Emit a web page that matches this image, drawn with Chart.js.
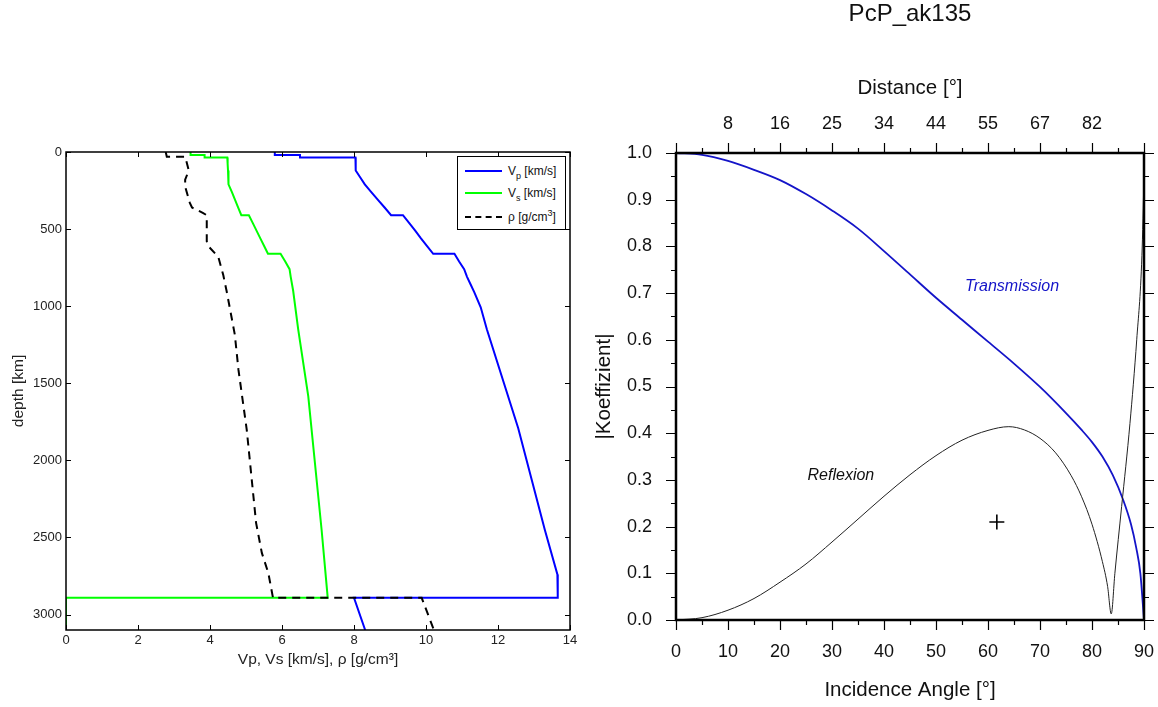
<!DOCTYPE html>
<html>
<head>
<meta charset="utf-8">
<script src="https://cdn.jsdelivr.net/npm/chart.js@4.4.0/dist/chart.umd.min.js"></script>
<style>
  html, body { margin:0; padding:0; background:#fff; overflow:hidden; width:1158px; height:707px; }
  canvas { position:absolute; top:0; }
  #left { left:0; }
  #right { left:580px; }
  #legend { position:absolute; left:457px; top:156px; width:109px; height:74px; box-sizing:border-box;
    border:1.5px solid #000; background:#fff; font:12px "Liberation Sans", Arial, sans-serif; color:#111; }
  #legend .row { position:absolute; left:0; height:20px; display:flex; align-items:center; white-space:nowrap; }
  #legend i { display:inline-block; width:37px; height:0; margin:0 6px 0 7px; }
  #legend span { line-height:20px; }
  #legend sub { font-size:9px; vertical-align:-4px; line-height:0; }
  #legend sup { font-size:9px; vertical-align:5px; line-height:0; }
</style>
</head>
<body>
<canvas id="left" width="580" height="707"></canvas>
<canvas id="right" width="640" height="707"></canvas>
<div id="legend">
  <div class="row" style="top:4px"><i style="border-top:2px solid #0000ff"></i><span>V<sub>p</sub> [km/s]</span></div>
  <div class="row" style="top:26px"><i style="border-top:2px solid #00ff00"></i><span>V<sub>s</sub> [km/s]</span></div>
  <div class="row" style="top:50px"><i style="border-top:2px dashed #000"></i><span>ρ [g/cm<sup>3</sup>]</span></div>
</div>
<script>
const FONT = '"Liberation Sans", Arial, Helvetica, sans-serif';

// --- left panel: velocity / density profile (depth in km)
const vpDepth = [0, 20, 20, 35, 35, 77.5, 120, 165, 210, 260, 310, 360, 410, 410, 460, 510, 560, 610, 660, 660, 710, 760, 809.5, 859, 908.5, 1007.5, 1150, 1790, 2450, 2740, 2891.5, 2891.5, 3100];
const vp = [5.80, 5.80, 6.50, 6.50, 8.04, 8.045, 8.05, 8.175, 8.30, 8.48, 8.665, 8.85, 9.03, 9.36, 9.53, 9.70, 9.86, 10.03, 10.20, 10.79, 10.92, 11.06, 11.14, 11.24, 11.34, 11.52, 11.69, 12.56, 13.30, 13.65, 13.66, 8.00, 8.31];

const vsDepth = [0, 20, 20, 35, 35, 77.5, 120, 165, 210, 260, 310, 360, 410, 410, 460, 510, 560, 610, 660, 660, 710, 760, 809.5, 900, 1150, 1585, 2450, 2891.5, 2891.5, 3100];
const vs = [3.46, 3.46, 3.85, 3.85, 4.48, 4.49, 4.50, 4.509, 4.518, 4.609, 4.696, 4.783, 4.870, 5.080, 5.186, 5.292, 5.398, 5.504, 5.610, 5.960, 6.090, 6.210, 6.242, 6.31, 6.45, 6.73, 7.10, 7.27, 0, 0];

const rhoDepth = [0, 30, 30, 120, 180, 225, 330, 360, 395, 410, 580, 610, 680, 800, 900, 1185, 1412, 1800, 2405, 2600, 2730, 2891.5, 2891.5, 3100];
const rho = [2.77, 2.80, 3.31, 3.41, 3.31, 3.31, 3.44, 3.50, 3.80, 3.91, 3.91, 3.95, 4.23, 4.37, 4.46, 4.69, 4.79, 5.02, 5.28, 5.44, 5.62, 5.75, 9.88, 10.22];

const depthTicks = [0, 500, 1000, 1500, 2000, 2500, 3000];

// --- right panel: coefficients vs incidence angle
const transAngle = [0, 5, 10, 15, 20, 25, 30, 35, 40, 45, 50, 55, 60, 65, 70, 75, 78, 80, 82, 84, 86, 87.5, 88.5, 89.3, 90];
const transVal = [1.0, 0.996, 0.983, 0.964, 0.942, 0.912, 0.877, 0.838, 0.790, 0.740, 0.690, 0.643, 0.596, 0.549, 0.499, 0.443, 0.407, 0.381, 0.350, 0.310, 0.257, 0.205, 0.155, 0.100, 0.0];

const reflAngle = [0, 5, 10, 15, 20, 25, 30, 35, 40, 45, 50, 55, 60, 64, 67, 70, 73, 76, 78, 80, 82, 83, 83.7, 84.4, 85.7, 87.3, 88.6, 89.6, 90];
const reflVal = [0.0, 0.005, 0.021, 0.046, 0.081, 0.120, 0.167, 0.216, 0.265, 0.311, 0.352, 0.385, 0.406, 0.414, 0.407, 0.389, 0.358, 0.309, 0.264, 0.205, 0.125, 0.072, 0.013, 0.100, 0.243, 0.421, 0.600, 0.780, 0.950];

const markAngle = [61.7];
const markVal = [0.21];

// top axis: epicentral distance shown at these incidence angles
const topAngles = [10, 20, 30, 40, 50, 60, 70, 80];
const topDist = ['8', '16', '25', '34', '44', '55', '67', '82'];

const pts = (xs, ys) => xs.map((x, i) => ({ x, y: ys[i] }));

// box + tick marks (major, optional minor) on all four sides
const frameTicks = {
  id: 'frameTicks',
  afterDraw(chart, args, o) {
    const { ctx, chartArea: a } = chart;
    const xs = chart.scales.x, ys = chart.scales.y;
    const s = o.inside ? 1 : -1;
    const mids = v => v.slice(1).map((t, i) => (t + v[i]) / 2);
    const xv = xs.ticks.map(t => t.value), yv = ys.ticks.map(t => t.value);
    ctx.save();
    ctx.strokeStyle = '#000';
    ctx.lineWidth = o.tickWidth;
    ctx.beginPath();
    const xm = (vals, len) => vals.forEach(v => {
      const p = Math.round(xs.getPixelForValue(v)) + 0.5;
      ctx.moveTo(p, a.top); ctx.lineTo(p, a.top + s * len);
      ctx.moveTo(p, a.bottom); ctx.lineTo(p, a.bottom - s * len);
    });
    const ym = (vals, len) => vals.forEach(v => {
      const p = Math.round(ys.getPixelForValue(v)) + 0.5;
      ctx.moveTo(a.left, p); ctx.lineTo(a.left + s * len, p);
      ctx.moveTo(a.right, p); ctx.lineTo(a.right - s * len, p);
    });
    xm(xv, o.len); ym(yv, o.len);
    if (o.minor) { xm(mids(xv), o.len / 2); ym(mids(yv), o.len / 2); }
    ctx.stroke();
    ctx.lineWidth = o.width;
    ctx.strokeRect(a.left, a.top, a.right - a.left, a.bottom - a.top);
    ctx.restore();
  }
};

// italic curve labels placed in data coordinates
const notes = {
  id: 'notes',
  afterDatasetsDraw(chart, args, o) {
    const { ctx } = chart;
    ctx.save();
    ctx.font = 'italic 16px ' + FONT;
    ctx.textAlign = 'left';
    ctx.textBaseline = 'middle';
    o.items.forEach(n => {
      ctx.fillStyle = n.color;
      ctx.fillText(n.text, chart.scales.x.getPixelForValue(n.x), chart.scales.y.getPixelForValue(n.y));
    });
    ctx.restore();
  }
};

// left chart
const smallFont = { family: FONT, size: 13 };
const leftTitleFont = { family: FONT, size: 15.5 };
new Chart(document.getElementById('left'), {
  type: 'scatter',
  data: {
    datasets: [
      { label: 'rho', data: pts(rho, rhoDepth), showLine: true, borderColor: '#000', borderWidth: 2, borderDash: [8, 6], pointRadius: 0, order: 0 },
      { label: 'Vs', data: pts(vs, vsDepth), showLine: true, borderColor: '#00ff00', borderWidth: 2, pointRadius: 0, order: 1 },
      { label: 'Vp', data: pts(vp, vpDepth), showLine: true, borderColor: '#0000ff', borderWidth: 2, pointRadius: 0, order: 2 }
    ]
  },
  options: {
    responsive: false,
    animation: false,
    layout: { padding: { top: 152, right: 10, left: 0, bottom: 0 } },
    plugins: {
      legend: { display: false },
      tooltip: { enabled: false },
      frameTicks: { inside: true, len: 5, tickWidth: 1, width: 1.5 }
    },
    scales: {
      x: {
        type: 'linear', min: 0, max: 14,
        grid: { display: false, drawTicks: false }, border: { display: false },
        ticks: { stepSize: 2, padding: 2.2, color: '#222', font: smallFont },
        title: { display: true, text: 'Vp, Vs [km/s], ρ [g/cm³]', color: '#222', font: leftTitleFont, padding: { bottom: 37.7, top: 0 } },
        afterFit: s => { s.height = 77; }
      },
      y: {
        type: 'linear', min: 0, max: 3100, reverse: true,
        grid: { display: false, drawTicks: false }, border: { display: false },
        ticks: { padding: 4, color: '#222', font: smallFont, callback: v => String(v) },
        afterBuildTicks: s => { s.ticks = depthTicks.map(v => ({ value: v })); },
        title: { display: true, text: 'depth [km]', color: '#222', font: leftTitleFont, padding: { top: 9.7, bottom: 0 } },
        afterFit: s => { s.width = 66; }
      }
    }
  },
  plugins: [frameTicks]
});

// right chart
const tickFont = { family: FONT, size: 18 };
const axisTitleFont = { family: FONT, size: 20.5 };
new Chart(document.getElementById('right'), {
  type: 'scatter',
  data: {
    datasets: [
      { label: 'Reflexion', data: pts(reflAngle, reflVal), showLine: true, borderColor: '#222', borderWidth: 1, pointRadius: 0, cubicInterpolationMode: 'monotone' },
      { label: 'Transmission', data: pts(transAngle, transVal), showLine: true, borderColor: '#1414c8', borderWidth: 1.8, pointRadius: 0, cubicInterpolationMode: 'monotone' },
      { label: 'mark', data: pts(markAngle, markVal), pointStyle: 'cross', pointRadius: 7.5, borderColor: '#000', borderWidth: 1.6 }
    ]
  },
  options: {
    responsive: false,
    animation: false,
    layout: { padding: { top: 0, right: 76, left: 0, bottom: 0 } },
    plugins: {
      legend: { display: false },
      tooltip: { enabled: false },
      title: { display: true, fullSize: false, text: 'PcP_ak135', color: '#111', font: { family: FONT, size: 24, weight: 'normal' }, padding: { top: 0, bottom: 0 } },
      frameTicks: { inside: false, minor: true, len: 10, tickWidth: 1.2, width: 2.5 },
      notes: { items: [
        { text: 'Transmission', x: 55.6, y: 0.714, color: '#1414c8' },
        { text: 'Reflexion', x: 25.3, y: 0.309, color: '#111' }
      ] }
    },
    scales: {
      x: {
        type: 'linear', min: 0, max: 90,
        grid: { display: false, drawTicks: false }, border: { display: false },
        ticks: { stepSize: 10, padding: 21, color: '#111', font: tickFont },
        title: { display: true, text: 'Incidence Angle [°]', color: '#111', font: axisTitleFont, padding: { top: 0, bottom: 4.7 } },
        afterFit: s => { s.height = 87; }
      },
      x2: {
        type: 'linear', position: 'top', min: 0, max: 90,
        grid: { display: false, drawTicks: false }, border: { display: false },
        ticks: { stepSize: 10, padding: 18, color: '#111', font: tickFont,
          callback: v => { const i = topAngles.indexOf(v); return i < 0 ? '' : topDist[i]; } },
        title: { display: true, text: 'Distance [°]', color: '#111', font: axisTitleFont, padding: { top: 46.9, bottom: 0 } },
        afterFit: s => { s.height = 124.2; }
      },
      y: {
        type: 'linear', min: 0, max: 1,
        grid: { display: false, drawTicks: false }, border: { display: false },
        ticks: { stepSize: 0.1, padding: 24, color: '#111', font: tickFont, callback: v => v.toFixed(1) },
        title: { display: true, text: '|Koeffizient|', color: '#111', font: axisTitleFont, padding: { top: 12, bottom: 0 } },
        afterFit: s => { s.width = 96; }
      }
    }
  },
  plugins: [frameTicks, notes]
});
</script>
</body>
</html>
